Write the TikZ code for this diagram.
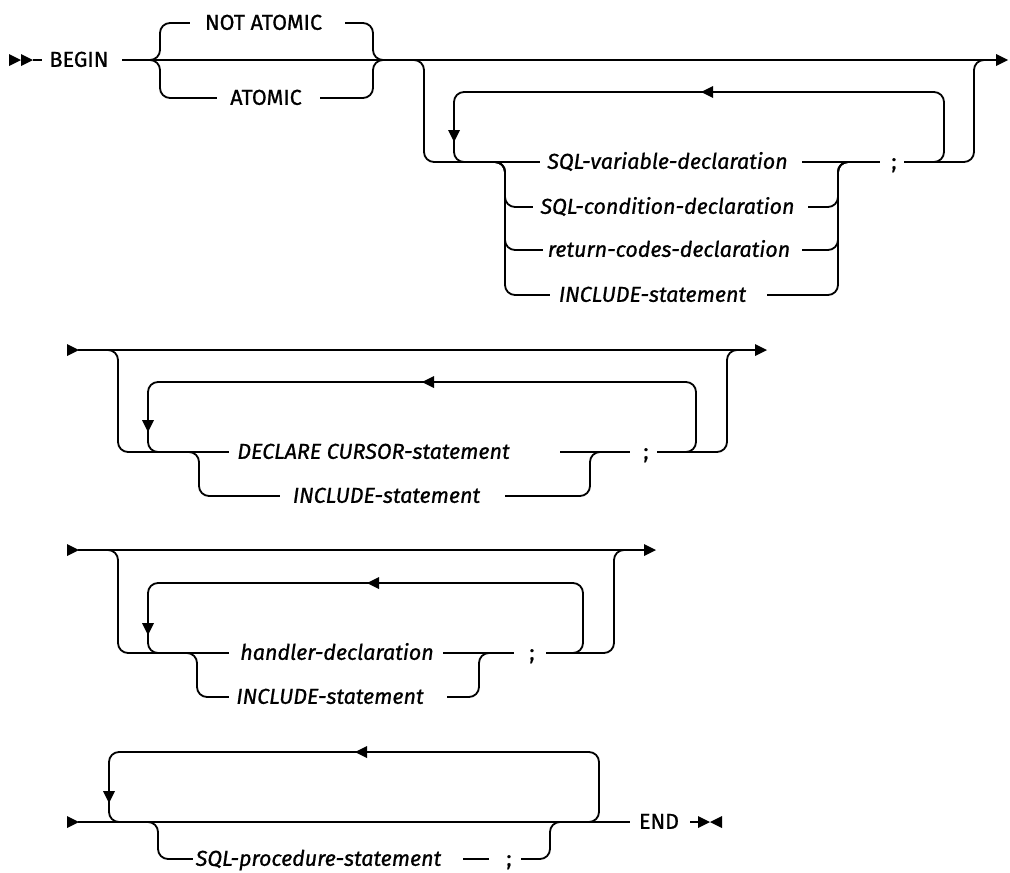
\documentclass[tikz,border=0pt]{standalone}
\usepackage{fontspec}
\setmainfont{Fira Sans}[FakeBold=0.9]
\newcommand\rrfont{\fontsize{21.5}{26}\selectfont}
\newcommand\arrR[2][12]{\fill #2 -- ++(-#1,-6) -- ++(0,12) -- cycle;}
\newcommand\arrL[2][12]{\fill #2 -- ++(#1,-6) -- ++(0,12) -- cycle;}
\newcommand\arrD[1]{\fill #1 -- ++(-6,-12) -- ++(12,0) -- cycle;}
% name, gapL, gapR, textL, textR, y, content
\newcommand\rrlab[7]{%
  \fill[white] (#2,#6-10) rectangle (#3,#6+10);
  \node[lbl] (#1) at ({(#4+#5)/2},#6) {#7};}
\tikzset{
  rr/.style={line width=1.8pt, rounded corners=10pt},
  ln/.style={line width=1.8pt},
  lbl/.style={anchor=base, yshift=-6.8pt, inner sep=0pt, font=\rrfont},
}
\begin{document}
\begin{tikzpicture}[x=1pt,y=-1pt]
\useasboundingbox (0,0) rectangle (1010,873);

% ---------------- Row 1 ----------------
\draw[ln] (33,60) -- (997,60);
\draw[rr] (150,60) -| (160,23) -| (373,60) -- (383,60);
\draw[rr] (150,60) -| (160,98) -| (373,60) -- (383,60);
\draw[rr] (414,60) -| (424,162) -| (974,60) -- (984,60);
\draw[rr] (930,162) -| (944,92) -| (454,162) -- (470,162);
\foreach \yy in {207,250,295}
  \draw[rr] (495,162) -| (505,\yy) -| (838,162) -- (848,162);
\rrlab{begin}{42}{122}{48}{110}{60}{BEGIN}
\rrlab{notatomic}{190}{345}{200}{327}{23}{NOT ATOMIC}
\rrlab{atomic}{217}{320}{227}{305}{98}{ATOMIC}
\rrlab{sqlvar}{540}{802}{548}{787}{162}{\itshape SQL-variable-declaration}
\rrlab{sqlcond}{533}{808}{542}{793}{207}{\itshape SQL-condition-declaration}
\rrlab{retcodes}{543}{802}{550}{788}{250}{\itshape return-codes-declaration}
\rrlab{incla}{550}{767}{555}{750}{295}{\itshape INCLUDE-statement}
\rrlab{semia}{880}{904}{889}{899}{162}{;}
\arrR{(21,60)}
\arrR{(33,60)}
\arrR{(1008,60)}
\arrL{(701,92)}
\arrD{(454,142)}

% ---------------- Row 2 ----------------
\draw[ln] (78,350) -- (757,350);
\draw[rr] (108,350) -| (118,452) -| (727,350) -- (737,350);
\draw[rr] (680,452) -| (696,382) -| (148,452) -- (165,452);
\draw[rr] (189,452) -| (199,496) -| (590,452) -- (600,452);
\rrlab{declare}{229}{560}{236}{511}{452}{\itshape DECLARE CURSOR-statement}
\rrlab{inclb}{280}{505}{291}{482}{496}{\itshape INCLUDE-statement}
\rrlab{semib}{630}{657}{641}{651}{452}{;}
\arrR{(79,350)}
\arrR{(767,350)}
\arrL{(422,382)}
\arrD{(148,432)}

% ---------------- Row 3 ----------------
\draw[ln] (78,550) -- (646,550);
\draw[rr] (108,550) -| (118,653) -| (614,550) -- (624,550);
\draw[rr] (570,653) -| (583,583) -| (148,653) -- (165,653);
\draw[rr] (187,653) -| (197,697) -| (479,653) -- (489,653);
\rrlab{handler}{229}{443}{243}{431}{653}{\itshape handler-declaration}
\rrlab{inclc}{229}{447}{236}{424}{697}{\itshape INCLUDE-statement}
\rrlab{semic}{514}{546}{527}{537}{653}{;}
\arrR{(79,550)}
\arrR{(656,550)}
\arrL{(367,583)}
\arrD{(148,635)}

% ---------------- Row 4 ----------------
\draw[ln] (78,822) -- (700,822);
\draw[rr] (585,822) -| (599,752) -| (109,822) -- (125,822);
\draw[rr] (148,822) -| (158,859) -| (550,822) -- (560,822);
\rrlab{sqlproc}{193}{463}{197}{440}{859}{\itshape SQL-procedure-statement}
\rrlab{semid}{489}{521}{504}{514}{859}{;}
\rrlab{end}{630}{690}{639}{679}{822}{END}
\arrR{(79,822)}
\arrL{(355,752)}
\arrD{(109,803)}
\arrR[12]{(710,822)}
\arrL[12]{(710,822)}
\end{tikzpicture}
\end{document}
